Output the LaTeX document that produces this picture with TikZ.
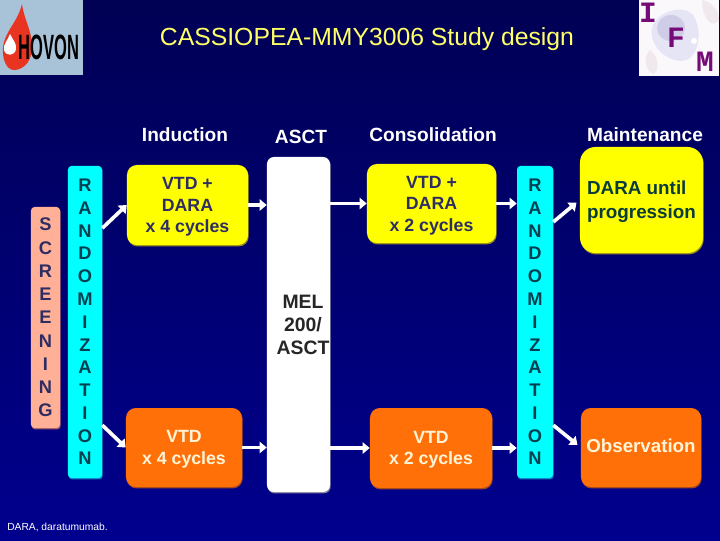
\documentclass[tikz,border=0pt]{standalone}
\usepackage{fontspec}
\setmainfont{Liberation Sans}
\newfontfamily\logomono{Liberation Mono}
\usetikzlibrary{positioning, calc, arrows.meta}

\definecolor{bgtop}{RGB}{0,0,84}
\definecolor{bgbot}{RGB}{0,0,142}
\definecolor{titleyellow}{RGB}{255,255,102}
\definecolor{boxyellow}{RGB}{255,255,0}
\definecolor{edgeyellow}{RGB}{150,140,30}
\definecolor{boxorange}{RGB}{255,112,8}
\definecolor{edgeorange}{RGB}{160,70,30}
\definecolor{boxcyan}{RGB}{0,255,255}
\definecolor{edgecyan}{RGB}{20,120,190}
\definecolor{boxpeach}{RGB}{255,176,150}
\definecolor{edgepeach}{RGB}{160,90,100}
\definecolor{edgegrey}{RGB}{130,130,150}
\definecolor{tealtext}{RGB}{0,64,80}
\definecolor{navytext}{RGB}{45,45,100}
\definecolor{daratext}{RGB}{10,60,60}
\definecolor{creamtext}{RGB}{255,244,214}
\definecolor{logoblue}{RGB}{168,194,216}
\definecolor{logored}{RGB}{232,52,32}
\definecolor{logopurple}{RGB}{118,10,120}
\definecolor{cellpale}{RGB}{229,229,245}
\definecolor{cellcore}{RGB}{206,204,230}
\definecolor{cellback}{RGB}{250,248,250}
\definecolor{cellpink}{RGB}{240,232,236}

\begin{document}
\begin{tikzpicture}[
    x=0.025cm, y=-0.025cm,
    bevel/.style={preaction={fill=#1, transform canvas={xshift=0.5pt, yshift=-1pt}}},
    phasebox/.style={rectangle, rounded corners=7pt, align=center, inner sep=0pt, text depth=-1pt, font=\bfseries\fontsize{12.6}{15.3}\selectfont},
    yellowbox/.style={phasebox, bevel=edgeyellow, fill=boxyellow, text=navytext},
    orangebox/.style={phasebox, bevel=edgeorange, fill=boxorange, text=creamtext},
    columnbox/.style={rectangle, rounded corners=2.5pt, align=center, inner sep=0pt, font=\bfseries\fontsize{13}{16.2}\selectfont},
    phaselabel/.style={text=white, inner sep=0pt, font=\bfseries\fontsize{13.6}{16}\selectfont},
    logoletter/.style={inner sep=0pt, text=logopurple, font=\logomono\bfseries\fontsize{21}{21}\selectfont},
    flow/.style={draw=white, line width=2.6pt, -{Triangle[length=5pt, width=8pt]}}
]

    % background
    \shade[top color=bgtop, bottom color=bgbot] (0, 0) rectangle (720, 540);
    \useasboundingbox (0, 0) rectangle (720, 540);

    % HOVON logo
    \node[fill=logoblue, minimum width=2.075cm, minimum height=1.875cm, inner sep=0pt] (hovon) at (41.5, 37.5) {};
    \fill[logored] (22, 4) .. controls (24, 20) and (33, 32) .. (32, 50) .. controls (31, 63) and (22, 70) .. (14, 70)
        .. controls (7, 70) and (2, 60) .. (3, 48) .. controls (4, 32) and (18, 22) .. (22, 4);
    \fill[white] (10, 34) .. controls (13, 40) and (17, 44) .. (16, 49) .. controls (15, 56) and (6, 57) .. (4, 50) .. controls (3, 44) and (8, 40) .. (10, 34);
    \node[inner sep=0pt, font=\bfseries\fontsize{25}{25}\selectfont] (hovontext) at (49, 47.5) {\scalebox{0.47}[1]{HOVON}};

    % IFM logo
    \node[fill=cellback, minimum width=2cm, minimum height=1.9cm, inner sep=0pt] (ifm) at (679, 38) {};
    \fill[cellpink] (702, 0) .. controls (712, 2) and (719, 10) .. (719, 20) .. controls (712, 30) and (702, 18) .. (702, 0);
    \fill[cellpink] (650, 50) .. controls (658, 56) and (660, 68) .. (654, 74) .. controls (646, 72) and (642, 58) .. (650, 50);
    \fill[cellpale] (652, 28) .. controls (656, 12) and (682, 4) .. (692, 14) .. controls (702, 26) and (700, 50) .. (690, 58) .. controls (676, 68) and (648, 50) .. (652, 28);
    \fill[cellcore] (671, 28) ellipse (14 and 13);
    \fill[white] (694, 41) circle (3);
    \node[logoletter] (ifmi) at (648, 13) {I};
    \node[logoletter] (ifmf) at (676, 38) {F};
    \node[logoletter] (ifmm) at (705, 62) {M};

    % title and column heads
    \node[text=titleyellow, inner sep=0pt, font=\fontsize{17.6}{20}\selectfont] (title) at (367, 39) {CASSIOPEA-MMY3006 Study design};
    \node[phaselabel] (induction) at (185, 135) {Induction};
    \node[phaselabel] (asctlabel) at (301, 137) {ASCT};
    \node[phaselabel] (consolidation) at (433, 135) {Consolidation};
    \node[phaselabel] (maintenance) at (645, 135) {Maintenance};

    % columns
    \node[columnbox, bevel=edgepeach, fill=boxpeach, text=navytext, font=\bfseries\fontsize{13}{16.5}\selectfont, minimum width=0.725cm, minimum height=5.525cm] (screen) at (45.5, 317.5) {S\\C\\R\\E\\E\\N\\I\\N\\G};
    \node[columnbox, bevel=edgecyan, fill=boxcyan, text=tealtext, minimum width=0.85cm, minimum height=7.8cm] (randa) at (85, 322) {R\\A\\N\\D\\O\\M\\I\\Z\\A\\T\\I\\O\\N};
    \node[columnbox, bevel=edgecyan, fill=boxcyan, text=tealtext, minimum width=0.9cm, minimum height=7.8cm] (randb) at (535, 322) {R\\A\\N\\D\\O\\M\\I\\Z\\A\\T\\I\\O\\N};
    \node[bevel=edgegrey, fill=white, rectangle, rounded corners=5pt, minimum width=1.575cm, minimum height=8.375cm] (asct) at (298.5, 324.5) {};
    \node[inner sep=0pt, align=center, text=black!85, font=\bfseries\fontsize{13.8}{16.4}\selectfont] (asctdrug) at (303, 325) {MEL\\200/\\ASCT};

    % treatment boxes
    \node[yellowbox, minimum width=3.025cm, minimum height=2cm] (vtddaraa) at (187.5, 205) {VTD +\\DARA\\x 4 cycles};
    \node[orangebox, minimum width=2.9cm, minimum height=1.975cm] (vtda) at (184, 447.5) {VTD\\x 4 cycles};
    \node[yellowbox, minimum width=3.225cm, minimum height=1.975cm] (vtddarab) at (431.5, 203.5) {VTD +\\DARA\\x 2 cycles};
    \node[orangebox, minimum width=3.05cm, minimum height=2cm] (vtdb) at (431, 448) {VTD\\x 2 cycles};
    \node[yellowbox, rounded corners=11pt, align=left, text depth=1pt, font=\bfseries\fontsize{13.4}{17}\selectfont, text=daratext, minimum width=3.075cm, minimum height=2.65cm] (dara) at (641.5, 200) {DARA until\\progression};
    \node[orangebox, text depth=3pt, font=\bfseries\fontsize{13.3}{16}\selectfont, minimum width=3cm, minimum height=1.975cm] (obs) at (641, 447.5) {Observation};

    % arrows
    \draw[flow] ($(randa.north east)!0.2!(randa.south east)$) -- (vtddaraa.west);
    \draw[flow] ($(randa.north east)!0.83!(randa.south east)$) -- (vtda.west);
    \draw[flow] (vtddaraa.east) -- (asct.west |- vtddaraa.east);
    \draw[flow] (vtda.east) -- (asct.west |- vtda.east);
    \draw[flow] (asct.east |- vtddarab.west) -- (vtddarab.west);
    \draw[flow] (asct.east |- vtdb.west) -- (vtdb.west);
    \draw[flow] (vtddarab.east) -- (randb.west |- vtddarab.east);
    \draw[flow] (vtdb.east) -- (randb.west |- vtdb.east);
    \draw[flow, shorten >=3pt] ($(randb.north east)!0.18!(randb.south east)$) -- (dara.west);
    \draw[flow, shorten >=3pt] ($(randb.north east)!0.83!(randb.south east)$) -- (obs.west);

    % footnote
    \node[text=white, inner sep=0pt, anchor=west, font=\fontsize{7.3}{9}\selectfont] (footnote) at (7, 527) {DARA, daratumumab.};

\end{tikzpicture}
\end{document}
